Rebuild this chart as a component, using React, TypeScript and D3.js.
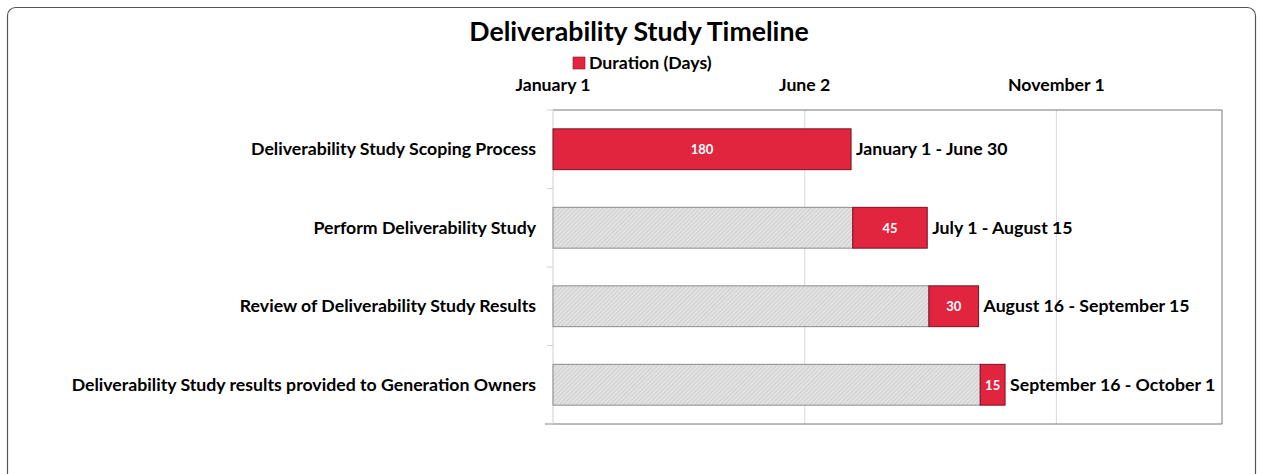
import React from "react";
import * as d3 from "d3";

const categories = [
  "Deliverability Study Scoping Process",
  "Perform Deliverability Study",
  "Review of Deliverability Study Results",
  "Deliverability Study results provided to Generation Owners",
];
const startDays = [0, 181, 227, 258];
const durations = [180, 45, 30, 15];
const rangeLabels = [
  "January 1 - June 30",
  "July 1 - August 15",
  "August 16 - September 15",
  "September 16 - October 1",
];
const tickValues = [0, 152, 304];
const tickLabels = ["January 1", "June 2", "November 1"];
const axisMax = 404;

const FONT = "Lato, 'Open Sans', sans-serif";

export default function App() {
  const W = 1264;
  const H = 474;
  const left = 553;
  const right = 1222;
  const top = 110;
  const bottom = 424;
  const x = d3.scaleLinear().domain([0, axisMax]).range([left, right]);
  const y = d3
    .scaleBand<string>()
    .domain(categories)
    .range([top, bottom])
    .paddingInner(0.48)
    .paddingOuter(0.24);
  const bw = y.bandwidth();
  const step = (bottom - top) / categories.length;
  const fs = 17.7;

  return (
    <svg
      width={W}
      height={H}
      style={{ position: "absolute", left: 0, top: 0, background: "#fff" }}
      fontFamily={FONT}
    >
      <defs>
        <pattern id="hatch" width="3" height="3" patternUnits="userSpaceOnUse" patternTransform="rotate(45)">
          <rect width="3" height="3" fill="#e2e2e2" />
          <line x1="0" y1="0" x2="0" y2="3" stroke="#bcbcbc" strokeWidth="1" />
        </pattern>
      </defs>
      <rect x={7.5} y={7.5} width={1248} height={480} rx={8} fill="#fff" stroke="#555" strokeWidth={1.2} />

      <text x={639} y={41} textAnchor="middle" fontSize={26.7} fontWeight="bold" fill="#000">
        Deliverability Study Timeline
      </text>
      <rect x={573} y={57} width={12} height={12} fill="#e1253f" stroke="#8a1020" strokeWidth={0.6} />
      <text x={589} y={69} fontSize={fs} fontWeight="bold" fill="#000">
        Duration (Days)
      </text>

      {/* grid lines */}
      {tickValues.slice(1).map((t) => (
        <line key={t} x1={x(t)} x2={x(t)} y1={top} y2={bottom} stroke="#d9d9d9" strokeWidth={1} />
      ))}
      {/* plot frame */}
      <line x1={left} x2={right} y1={top} y2={top} stroke="#777" strokeWidth={1} />
      <line x1={right} x2={right} y1={top} y2={bottom} stroke="#777" strokeWidth={1} />
      <line x1={left - 8} x2={right} y1={bottom} y2={bottom} stroke="#777" strokeWidth={1} />
      <line x1={left} x2={left} y1={top} y2={bottom} stroke="#d0d0d0" strokeWidth={1} />
      {d3.range(categories.length + 1).map((i) => (
        <line key={i} x1={left - 6} x2={left} y1={top + i * step} y2={top + i * step} stroke="#d0d0d0" strokeWidth={1} />
      ))}

      {tickValues.map((t, i) => (
        <text key={t} x={x(t)} y={91} textAnchor="middle" fontSize={fs} fontWeight="bold" fill="#000">
          {tickLabels[i]}
        </text>
      ))}

      {categories.map((c, i) => {
        const by = y(c)!;
        const s = startDays[i];
        const e = s + durations[i];
        return (
          <g key={c}>
            <text x={536} y={by + bw / 2 + 6} textAnchor="end" fontSize={fs} fontWeight="bold" fill="#000">
              {c}
            </text>
            {s > 0 && (
              <rect x={x(0)} y={by} width={x(s) - x(0)} height={bw} fill="url(#hatch)" stroke="#8c8c8c" strokeWidth={1} />
            )}
            <rect x={x(s)} y={by} width={x(e) - x(s)} height={bw} fill="#e1253f" stroke="#7a1020" strokeWidth={1} />
            <text x={(x(s) + x(e)) / 2} y={by + bw / 2 + 5} textAnchor="middle" fontSize={13} fontWeight="bold" fill="#fff">
              {durations[i]}
            </text>
            <text x={x(e) + 5} y={by + bw / 2 + 6} fontSize={fs} fontWeight="bold" fill="#000">
              {rangeLabels[i]}
            </text>
          </g>
        );
      })}
    </svg>
  );
}
